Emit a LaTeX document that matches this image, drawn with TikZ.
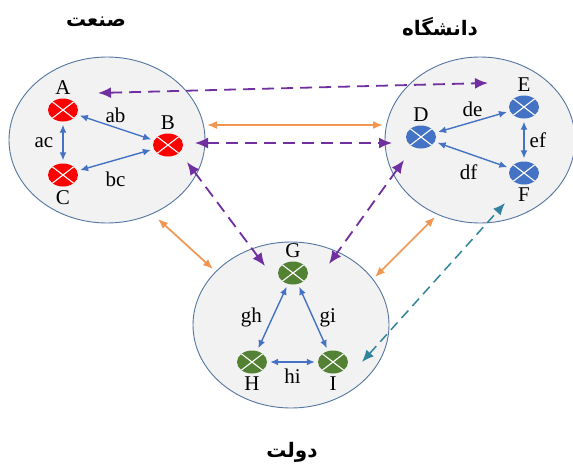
\documentclass[tikz,border=0pt]{standalone}
\usepackage{fontspec}
\setmainfont{Liberation Serif}
\newfontfamily\arabicfont[Script=Arabic]{DejaVu Sans}
\TeXXeTstate=1
\usepackage{tikz}
\usetikzlibrary{shapes.geometric, arrows.meta, positioning, calc}

\begin{document}
\begin{tikzpicture}[
    x=1pt, y=-1pt,
    font=\fontsize{21}{23}\selectfont,
    % Define colors
    /utils/exec={
        \definecolor{triGrey}{RGB}{242, 242, 242}
        \definecolor{triEdge}{RGB}{84, 118, 160}
        \definecolor{triRed}{RGB}{255, 0, 0}
        \definecolor{triBlue}{RGB}{68, 114, 196}
        \definecolor{triGreen}{RGB}{84, 130, 53}
        \definecolor{triOrange}{RGB}{240, 150, 80}
        \definecolor{triPurple}{RGB}{112, 48, 160}
        \definecolor{triTeal}{RGB}{49, 132, 155}
    },
    % Node Styles
    sector/.style={
        ellipse, draw=triEdge, line width=0.9pt, fill=triGrey,
        minimum width=196, minimum height=166, inner sep=0
    },
    actor/.style={
        ellipse, minimum width=30, minimum height=23, inner sep=0,
        label distance=1pt,
        every label/.style={inner sep=1pt},
        path picture={
            \draw[white, line width=1.1pt]
                (path picture bounding box.south west) -- (path picture bounding box.north east)
                (path picture bounding box.north west) -- (path picture bounding box.south east);
        }
    },
    industry/.style={actor, fill=triRed},
    university/.style={actor, fill=triBlue},
    government/.style={actor, fill=triGreen},
    tag/.style={text=black, inner sep=2pt},
    title/.style={font=\arabicfont\bfseries\fontsize{20}{22}\selectfont},
    % Connector Styles
    link/.style={{Latex[length=8pt,width=7pt]}-{Latex[length=8pt,width=7pt]},
        line width=1.4pt, triBlue, shorten <=3pt, shorten >=3pt},
    pull/.style={{Latex[length=13pt,width=11pt]}-{Latex[length=13pt,width=11pt]},
        line width=1.8pt, triPurple, dash pattern=on 12pt off 7pt},
    push/.style={{Latex[length=10pt,width=8pt]}-{Latex[length=10pt,width=8pt]},
        line width=1.7pt, triOrange},
    cross_link/.style={{Latex[length=12pt,width=10pt]}-{Latex[length=12pt,width=10pt]},
        line width=1.5pt, triTeal, dash pattern=on 10pt off 6pt}
]

\useasboundingbox (0,0) rectangle (573,466);

% =================================================================
% SECTORS
% =================================================================
\node[sector] (indBox) at (107,140) {};
\node[sector, minimum width=190] (uniBox) at (480,140) {};
\node[sector] (govBox) at (291,325) {};

\node[title] (indTitle) at (96,22) {\beginR صنعت\endR};
\node[title] (uniTitle) at (440,27) {\beginR دانشگاه\endR};
\node[title] (govTitle) at (292,452) {\beginR دولت\endR};

% =================================================================
% INDUSTRY: A, B, C
% =================================================================
\node[industry, label=above:A] (A) at (63,110) {};
\node[industry, label=above:B] (B) at (168,145) {};
\node[industry, label=below:C] (C) at (63,175) {};

\draw[link] (A) -- node[tag, above=2pt] {ab} (B);
\draw[link] (A) -- node[tag, left=7pt] {ac} (C);
\draw[link] (C) -- node[tag, below=9pt] {bc} (B);

% =================================================================
% UNIVERSITY: D, E, F
% =================================================================
\node[university, label=above:D] (D) at (421,137) {};
\node[university, label=above:E] (E) at (524,107) {};
\node[university, label=below:F] (F) at (524,173) {};

\draw[link] (D) -- node[tag, above=3pt] {de} (E);
\draw[link] (E) -- node[tag, right=3pt] {ef} (F);
\draw[link] (D) -- node[tag, below=7pt, xshift=-4pt] {df} (F);

% =================================================================
% GOVERNMENT: G, H, I
% =================================================================
\node[government, label=above:G] (G) at (293,273) {};
\node[government, label=below:H] (H) at (252,362) {};
\node[government, label=below:I] (I) at (333,362) {};

\draw[link] (G) -- node[tag, left=8pt] {gh} (H);
\draw[link] (G) -- node[tag, right=4pt] {gi} (I);
\draw[link] (H) -- node[tag, below=4pt] {hi} (I);

% =================================================================
% LINKS BETWEEN SECTORS
% =================================================================
\coordinate (indTop) at (98,93);
\coordinate (uniTop) at (488,83);
\coordinate (indEast) at (207,125);
\coordinate (uniWest) at (383,125);
\coordinate (indMid) at (195,143);
\coordinate (uniMid) at (392,143);
\coordinate (indLow) at (187,162);
\coordinate (govLeft) at (265,266);
\coordinate (uniLow) at (404,160);
\coordinate (govRight) at (329,264);
\coordinate (indSouth) at (158,219);
\coordinate (govWest) at (213,269);
\coordinate (govEast) at (375,277);
\coordinate (uniSouth) at (435,217);
\coordinate (govInner) at (362,362);
\coordinate (uniInner) at (505,203);

\draw[pull] (indTop) -- (uniTop);
\draw[push] (indEast) -- (uniWest);
\draw[pull] (indMid) -- (uniMid);
\draw[pull] (indLow) -- (govLeft);
\draw[pull] (uniLow) -- (govRight);
\draw[push] (indSouth) -- (govWest);
\draw[push] (govEast) -- (uniSouth);
\draw[cross_link] (govInner) -- (uniInner);

\end{tikzpicture}
\end{document}
